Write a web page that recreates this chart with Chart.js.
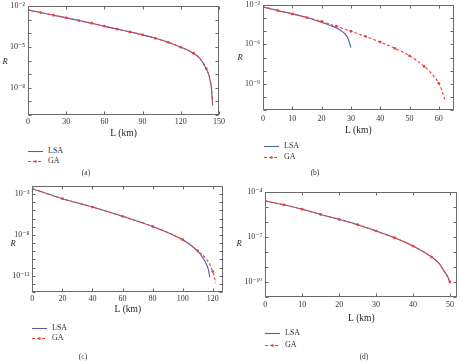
<!DOCTYPE html>
<html>
<head>
<meta charset="utf-8">
<script src="https://cdn.jsdelivr.net/npm/chart.js@4.4.1/dist/chart.umd.min.js"></script>
<style>
  html, body { margin: 0; padding: 0; background: #fff; }
  body { width: 462px; height: 364px; position: relative; overflow: hidden;
         font-family: 'Liberation Serif', 'DejaVu Serif', serif; color: #222;
         -webkit-font-smoothing: antialiased; }
  canvas { position: absolute; }
  .r { position: absolute; font-style: italic; font-size: 8.5px; line-height: 1; transform: translate(-50%, -50%); }
  .leg { position: absolute; display: flex; align-items: center; font-size: 8px; line-height: 1; height: 8px; white-space: nowrap; color: #333; }
  .leg svg { margin-right: 5px; }
  .cap { position: absolute; font-size: 7.5px; line-height: 1; transform: translate(-50%, -50%); color: #333; }
</style>
</head>
<body>
<canvas id="ca" width="231" height="142" style="left:0;top:0"></canvas>
<canvas id="cb" width="231" height="142" style="left:231px;top:0"></canvas>
<canvas id="cc" width="231" height="142" style="left:0;top:182px"></canvas>
<canvas id="cd" width="231" height="142" style="left:231px;top:182px"></canvas>

<div class="r" style="left:5px;top:61px">R</div>
<div class="r" style="left:240px;top:57px">R</div>
<div class="r" style="left:13px;top:243px">R</div>
<div class="r" style="left:239px;top:243px">R</div>

<div id="legends"></div>

<div class="cap" style="left:86px;top:173px">(a)</div>
<div class="cap" style="left:315px;top:173px">(b)</div>
<div class="cap" style="left:83px;top:357px">(c)</div>
<div class="cap" style="left:364px;top:357px">(d)</div>

<script>
// ---- data ----
// (a)
const aLen = [0, 10, 20, 30, 40, 50, 60, 70, 80, 90, 100, 110, 120, 130, 135, 140, 142, 143, 144, 145];
const aLsa = [5.1e-3, 3.3e-3, 2.1e-3, 1.35e-3, 8.5e-4, 5.4e-4, 3.3e-4, 2.0e-4, 1.26e-4, 7.6e-5, 4.3e-5, 2.2e-5, 9.5e-6, 3.4e-6, 1.4e-6, 2.5e-7, 8.9e-8, 3.5e-8, 1.1e-8, 5e-10];
const aGa  = [5.1e-3, 3.3e-3, 2.1e-3, 1.35e-3, 8.5e-4, 5.4e-4, 3.3e-4, 2.0e-4, 1.26e-4, 7.6e-5, 4.3e-5, 2.2e-5, 9.5e-6, 3.4e-6, 1.4e-6, 2.5e-7, 8.9e-8, 3.5e-8, 1.1e-8, 5e-10];
const aXTicks = [0, 30, 60, 90, 120, 150];
const aYLabels = [-2, -5, -8];

// (b)
const bLsaLen = [0, 5, 10, 15, 20, 24, 26, 28, 29, 30];
const bLsa = [7.1e-4, 3.8e-4, 2.1e-4, 1.1e-4, 4.7e-5, 2.2e-5, 1.35e-5, 6.3e-6, 2.8e-6, 5.6e-7];
const bGaLen = [0, 5, 10, 15, 20, 25, 30, 35, 40, 45, 50, 55, 58, 60, 61, 62];
const bGa = [7.1e-4, 3.8e-4, 2.1e-4, 1.1e-4, 5.6e-5, 2.4e-5, 1.0e-5, 4.0e-6, 1.5e-6, 5.0e-7, 1.35e-7, 2.1e-8, 4.5e-9, 1.07e-9, 3.2e-10, 6.3e-11];
const bXTicks = [0, 10, 20, 30, 40, 50, 60];
const bYLabels = [-3, -6, -9];

// (c)
const cLsaLen = [0, 20, 40, 60, 80, 100, 105, 110, 113, 115, 117, 118];
const cLsa = [4.7e-3, 2.8e-4, 2.6e-5, 1.9e-6, 1.1e-7, 2.6e-9, 6.3e-10, 1.0e-10, 2.0e-11, 5.0e-12, 6.3e-13, 6.3e-14];
const cGaLen = [0, 20, 40, 60, 80, 100, 105, 110, 115, 118, 120, 121, 122];
const cGa = [4.7e-3, 2.8e-4, 2.6e-5, 1.9e-6, 1.1e-7, 2.6e-9, 6.3e-10, 1.1e-10, 1.6e-11, 2.5e-12, 3.2e-13, 7.9e-14, 1.26e-14];
const cXTicks = [0, 20, 40, 60, 80, 100, 120];
const cYLabels = [-3, -8, -13];

// (d)
const dLen = [0, 5, 10, 15, 20, 25, 30, 35, 40, 45, 47, 48.5, 49.5, 50];
const dLsa = [2.5e-5, 1.4e-5, 7.1e-6, 3.2e-6, 1.5e-6, 6.6e-7, 2.5e-7, 8.9e-8, 2.5e-8, 4.7e-9, 1.8e-9, 5e-10, 2e-10, 1.0e-10];
const dGa  = [2.5e-5, 1.4e-5, 7.1e-6, 3.2e-6, 1.5e-6, 6.6e-7, 2.5e-7, 8.9e-8, 2.5e-8, 4.7e-9, 1.8e-9, 5e-10, 2e-10, 1.0e-10];
const dXTicks = [0, 10, 20, 30, 40, 50];
const dYLabels = [-4, -7, -10];

const LSA_COLOR = "#5a5aa6";
const GA_COLOR = "#e5443c";

Chart.defaults.font.family = "'Liberation Serif', 'DejaVu Serif', serif";

const SUP = { "-": "\u207B", "0": "\u2070", "1": "\u00B9", "2": "\u00B2", "3": "\u00B3",
  "4": "\u2074", "5": "\u2075", "6": "\u2076", "7": "\u2077", "8": "\u2078", "9": "\u2079" };
function sup(n) { return String(n).split("").map(c => SUP[c]).join(""); }

function toPts(xs, ys) { return xs.map((x, i) => ({ x: x, y: ys[i] })); }

// box around plot + inward ticks
const frame = {
  id: "frame",
  afterDraw(chart) {
    const { ctx, chartArea: a, scales } = chart;
    const L = Math.round(a.left) + 0.5, R = Math.round(a.right) - 0.5;
    const T = Math.round(a.top) + 0.5, B = Math.round(a.bottom) - 0.5;
    ctx.save();
    ctx.strokeStyle = "#6a6a6a";
    ctx.lineWidth = 1;
    ctx.strokeRect(L, T, R - L, B - T);
    ctx.beginPath();
    scales.x.ticks.forEach(t => {
      const px = Math.round(scales.x.getPixelForValue(t.value)) + 0.5;
      ctx.moveTo(px, B); ctx.lineTo(px, B - 3);
      ctx.moveTo(px, T); ctx.lineTo(px, T + 3);
    });
    scales.y.ticks.forEach(t => {
      const py = Math.round(scales.y.getPixelForValue(t.value)) + 0.5;
      ctx.moveTo(L, py); ctx.lineTo(L + 3, py);
      ctx.moveTo(R, py); ctx.lineTo(R - 3, py);
    });
    ctx.stroke();
    ctx.restore();
  }
};

function makePanel(id, p) {
  const decades = [];
  for (let e = p.yMinExp; e <= p.yMaxExp; e++) decades.push(e);
  return new Chart(document.getElementById(id), {
    type: "line",
    data: {
      datasets: [
        {
          label: "LSA", data: toPts(p.lsaLen, p.lsa), order: 2,
          borderColor: LSA_COLOR, borderWidth: 1.1, pointRadius: 0,
          cubicInterpolationMode: "monotone",
        },
        {
          label: "GA", data: toPts(p.gaLen, p.ga), order: 1,
          borderColor: GA_COLOR, borderWidth: 1.1, borderDash: [3, 2],
          pointRadius: ctx => (p.marks.includes(ctx.raw.x) ? 1.4 : 0),
          pointBackgroundColor: GA_COLOR, pointBorderWidth: 0,
          cubicInterpolationMode: "monotone",
        },
      ],
    },
    options: {
      responsive: false, animation: false, devicePixelRatio: 1,
      layout: { padding: p.pad },
      plugins: { legend: { display: false }, tooltip: { enabled: false } },
      scales: {
        x: {
          type: "linear", min: 0, max: p.xMax,
          grid: { display: false, drawTicks: false }, border: { display: false },
          afterBuildTicks: s => { s.ticks = p.xTicks.map(v => ({ value: v })); },
          afterFit: s => { s.height = p.xH; s.paddingLeft = 0; s.paddingRight = 0; },
          ticks: { padding: p.xPad, maxRotation: 0, autoSkip: false, color: "#333", font: { size: 8 } },
          title: { display: true, text: "L (km)", color: "#222", font: { size: 9.5 }, padding: { top: 0, bottom: p.tPad } },
        },
        y: {
          type: "logarithmic", min: Math.pow(10, p.yMinExp), max: Math.pow(10, p.yMaxExp),
          grid: { display: false, drawTicks: false }, border: { display: false },
          afterBuildTicks: s => { s.ticks = decades.map(e => ({ value: Math.pow(10, e) })); },
          afterFit: s => { s.width = p.yW; s.paddingTop = 0; s.paddingBottom = 0; },
          ticks: {
            padding: 3, color: "#333", font: { size: 8 }, autoSkip: false,
            callback: v => {
              const e = Math.round(Math.log10(v));
              return p.yLabels.includes(e) ? "10" + sup(e) : "";
            },
          },
        },
      },
    },
    plugins: [frame],
  });
}

makePanel("ca", {
  lsaLen: aLen, lsa: aLsa, gaLen: aLen, ga: aGa, marks: [0, 10, 20, 30, 40, 50, 60, 70, 80, 90, 100, 110, 120, 130, 140],
  xMax: 150, xTicks: aXTicks, yMinExp: -10, yMaxExp: -2, yLabels: aYLabels,
  pad: { left: 0, right: 12, top: 6, bottom: 0 }, yW: 28, xH: 27, xPad: 2, tPad: 3.3,
});
makePanel("cb", {
  lsaLen: bLsaLen, lsa: bLsa, gaLen: bGaLen, ga: bGa, marks: [0, 5, 10, 15, 20, 25, 30, 35, 40, 45, 50, 55, 60],
  xMax: 65, xTicks: bXTicks, yMinExp: -11, yMaxExp: -3, yLabels: bYLabels,
  pad: { left: 0, right: 8.5, top: 5, bottom: 0 }, yW: 32, xH: 32, xPad: 4.5, tPad: 6.3,
});
makePanel("cc", {
  lsaLen: cLsaLen, lsa: cLsa, gaLen: cGaLen, ga: cGa, marks: [0, 20, 40, 60, 80, 100, 110, 120],
  xMax: 127, xTicks: cXTicks, yMinExp: -15, yMaxExp: -2, yLabels: cYLabels,
  pad: { left: 0, right: 7.7, top: 4, bottom: 0 }, yW: 32.3, xH: 32, xPad: 2, tPad: 9.3,
});
makePanel("cd", {
  lsaLen: dLen, lsa: dLsa, gaLen: dLen, ga: dGa, marks: [0, 5, 10, 15, 20, 25, 30, 35, 40, 45, 50],
  xMax: 52, xTicks: dXTicks, yMinExp: -11, yMaxExp: -4, yLabels: dYLabels,
  pad: { left: 0, right: 4.7, top: 10, bottom: 0 }, yW: 34.3, xH: 27, xPad: 3, tPad: 0.3,
});

// legends: small line samples + names, stacked under each plot
const legendRows = [
  { x: 28, y: 151, name: "LSA" }, { x: 28, y: 161, name: "GA" },
  { x: 264, y: 146, name: "LSA" }, { x: 264, y: 157, name: "GA" },
  { x: 32, y: 328, name: "LSA" }, { x: 32, y: 338, name: "GA" },
  { x: 265, y: 333, name: "LSA" }, { x: 265, y: 345, name: "GA" },
];
const box = document.getElementById("legends");
legendRows.forEach(r => {
  const d = document.createElement("div");
  d.className = "leg";
  d.style.left = r.x + "px";
  d.style.top = (r.y - 4) + "px";
  const sample = r.name === "LSA"
    ? `<line x1="0" y1="3.5" x2="15" y2="3.5" stroke="${LSA_COLOR}" stroke-width="1.1"/>`
    : `<line x1="0" y1="3.5" x2="15" y2="3.5" stroke="${GA_COLOR}" stroke-width="1.1" stroke-dasharray="3,2"/><circle cx="7.5" cy="3.5" r="1.3" fill="${GA_COLOR}"/>`;
  d.innerHTML = `<svg width="15" height="7">${sample}</svg><span>${r.name}</span>`;
  box.appendChild(d);
});
</script>
</body>
</html>
